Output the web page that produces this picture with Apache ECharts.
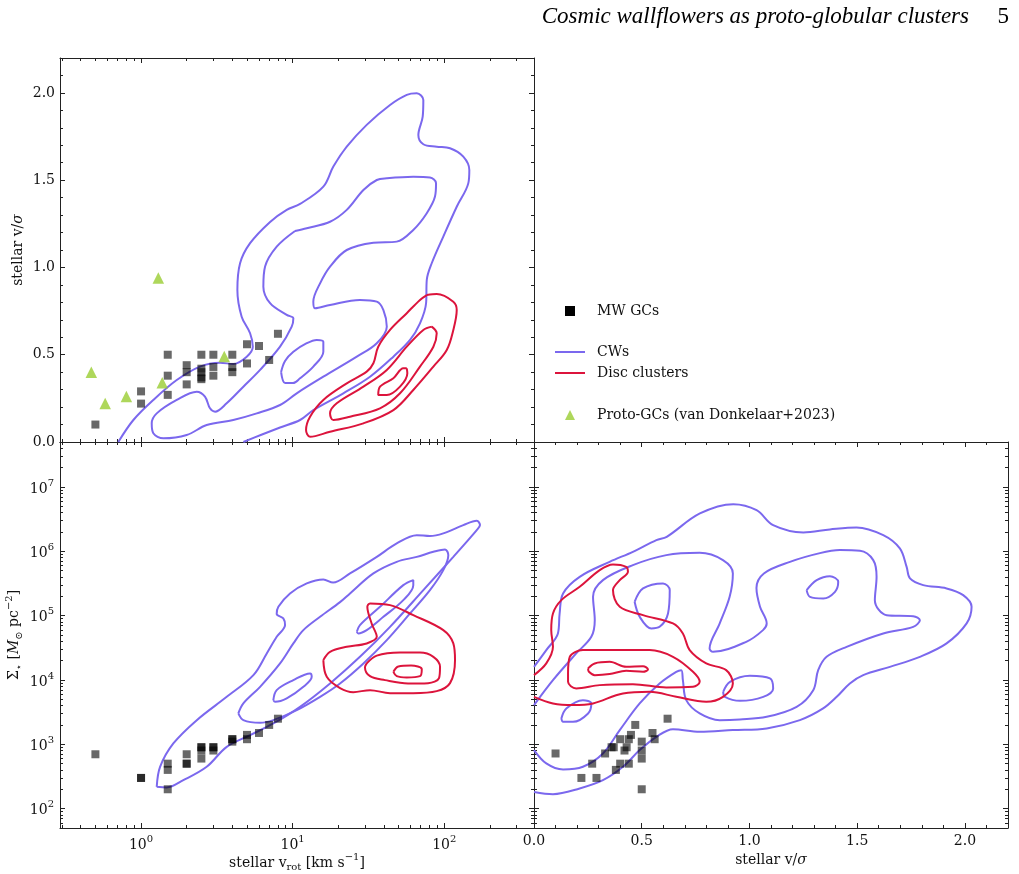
<!DOCTYPE html>
<html><head><meta charset="utf-8">
<script src="https://cdn.jsdelivr.net/npm/echarts@6.0.0/dist/echarts.min.js"></script>
<style>html,body{margin:0;padding:0;background:#fff}#chart{width:1019px;height:874px}</style>
</head><body><div id="chart"></div>
<script>
// ---------------- axis ranges & ticks ----------------
const vrotRange = [0.292, 391];
const vsRange = [0, 2.2];
const sigmaRange = [50, 5e7];
const vrotMajor = [1, 10, 100];
const vrotMinor = [0.3,0.4,0.5,0.6,0.7,0.8,0.9,2,3,4,5,6,7,8,9,20,30,40,50,60,70,80,90,200,300];
const vsMajor = [0, 0.5, 1, 1.5, 2];
const vsMinor = [0.1,0.2,0.3,0.4,0.6,0.7,0.8,0.9,1.1,1.2,1.3,1.4,1.6,1.7,1.8,1.9,2.1,2.2];
const sigmaMajor = [1e2, 1e3, 1e4, 1e5, 1e6, 1e7];
const sigmaMinor = [50,60,70,80,90,200,300,400,500,600,700,800,900,2000,3000,4000,5000,6000,7000,8000,9000,
  2e4,3e4,4e4,5e4,6e4,7e4,8e4,9e4,2e5,3e5,4e5,5e5,6e5,7e5,8e5,9e5,2e6,3e6,4e6,5e6,6e6,7e6,8e6,9e6,2e7,3e7,4e7,5e7];

// ---------------- Milky Way GCs ----------------
const mwVrotVs = [[0.5,0.1],[1,0.29],[1,0.22],[1.5,0.5],[1.5,0.38],[1.5,0.27],[2,0.44],[2,0.40],[2,0.33],
  [2.5,0.5],[2.5,0.42],[2.5,0.40],[2.5,0.37],[2.5,0.36],[3,0.5],[3,0.43],[3,0.38],[4,0.5],[4,0.43],[4,0.40],
  [5,0.56],[5,0.45],[6,0.55],[7,0.47],[8,0.62]];
const mwVrotSigma = [[0.5,700],[1,300],[1,300],[1.5,500],[1.5,400],[1.5,200],[2,700],[2,500],[2,500],
  [2.5,900],[2.5,900],[2.5,800],[2.5,600],[3,900],[3,900],[3,800],[4,1200],[4,1200],[4,1100],
  [5,1400],[5,1200],[6,1500],[7,2000],[8,2500]];
const mwVsSigma = [[0.1,720],[0.22,300],[0.29,300],[0.27,500],[0.33,720],[0.36,900],[0.37,900],[0.38,400],
  [0.40,1200],[0.40,500],[0.42,800],[0.43,900],[0.44,1200],[0.44,500],[0.45,1400],[0.47,2000],
  [0.5,1100],[0.5,800],[0.5,600],[0.5,200],[0.55,1500],[0.56,1200],[0.62,2500]];
// ---------------- proto-GCs ----------------
const protoVrotVs = [[0.47,0.40],[0.58,0.22],[0.80,0.26],[1.30,0.94],[1.38,0.34],[3.54,0.49]];

// ---------------- CW contours: v_rot vs v/sigma ----------------
const cwVrotVs1 = [[0.708,0],[0.890,0.126],[1.205,0.241],[1.720,0.355],[2.449,0.432],[3.32,0.454],[4.06,0.447],[4.98,0.489],[5.46,0.546],[5.24,0.623],[4.61,0.718],[4.32,0.871],[4.50,1.024],[5.24,1.139],[7.10,1.261],[9.14,1.330],[11.19,1.364],[15.94,1.463],[18.56,1.578],[22.75,1.692],[30.8,1.817],[43.9,1.931],[56.6,1.989],[65.9,1.998],[72.8,1.960],[72.1,1.864],[67.5,1.759],[72.8,1.706],[89.2,1.692],[109.2,1.683],[133.6,1.635],[146.4,1.559],[144.2,1.483],[120.9,1.348],[98.6,1.177],[82.7,1.024],[76.7,0.928],[75.9,0.795],[69.2,0.680],[59.5,0.585],[46.2,0.489],[32.4,0.374],[21.6,0.279],[13.69,0.183],[11.19,0.126],[8.26,0.083],[6.28,0.043],[4.73,0]];
const cwVrotVs2 = [[10.37,1.209],[7.85,1.119],[6.58,1.005],[6.41,0.890],[7.10,0.795],[9.14,0.728],[10.11,0.709],[9.86,0.661],[8.26,0.546],[6.10,0.413],[4.73,0.317],[3.67,0.222],[3.08,0.174],[2.85,0.193],[2.64,0.260],[2.33,0.288],[1.720,0.241],[1.269,0.164],[1.176,0.107],[1.205,0.050],[1.403,0.021],[2.00,0.040],[2.71,0.097],[4.06,0.126],[5.80,0.164],[8.26,0.212],[10.64,0.279],[15.94,0.374],[26.5,0.489],[35.9,0.566],[41.8,0.661],[39.7,0.756],[35.9,0.804],[27.8,0.814],[17.65,0.785],[14.06,0.766],[13.69,0.804],[15.17,0.909],[17.65,1.005],[22.75,1.100],[34.1,1.142],[48.6,1.148],[62.5,1.215],[76.7,1.311],[86.9,1.406],[88.3,1.483],[80.5,1.515],[62.5,1.520],[41.8,1.511],[35.9,1.501],[29.3,1.444],[22.75,1.330],[17.65,1.262],[12.39,1.225],[10.37,1.209]];
const cwVrotVs3 = [[8.39,0.401],[8.91,0.338],[10.06,0.338],[11.19,0.365],[13.69,0.432],[15.94,0.517],[15.94,0.575],[14.42,0.585],[12.39,0.566],[10.11,0.517],[8.91,0.464],[8.39,0.401]];
// ---------------- Disc cluster contours: v_rot vs v/sigma ----------------
const discVrotVs1 = [[76.7,0.842],[89.2,0.848],[114.8,0.804],[120.9,0.756],[114.8,0.642],[103.9,0.527],[84.8,0.432],[62.5,0.298],[46.2,0.183],[29.3,0.107],[17.65,0.059],[13.03,0.030],[12.26,0.069],[13.03,0.145],[15.94,0.241],[22.75,0.336],[30.8,0.403],[34.1,0.451],[36.7,0.546],[43.9,0.642],[56.6,0.738],[69.2,0.814],[76.7,0.842]];
const discVrotVs2 = [[82.7,0.661],[89.2,0.623],[84.8,0.546],[69.2,0.432],[51.1,0.279],[37.7,0.193],[23.9,0.145],[18.56,0.126],[17.65,0.164],[19.54,0.222],[29.3,0.317],[41.8,0.413],[56.6,0.546],[72.8,0.642],[82.7,0.661]];
const discVrotVs3 = [[56.6,0.422],[57.1,0.394],[51.1,0.317],[41.8,0.269],[36.7,0.269],[37.7,0.317],[46.2,0.365],[53.7,0.422],[56.6,0.422]];

// ---------------- CW contours: v_rot vs Sigma ----------------
const cwVrotSigma1 = [[1.269,218],[1.335,447],[1.633,1031],[2.331,2375],[3.675,5470],[5.51,11890],[6.75,25850],[7.85,46830],[8.91,71200],[8.68,90500],[7.85,105600],[8.05,137100],[9.61,221300],[12.39,316800],[15.94,365600],[18.48,326000],[23.9,453000],[35.9,820000],[48.6,1326000],[65.9,1784000],[80.5,1722000],[98.6,1897000],[133.6,2553000],[163.9,2980000],[172.2,2553000],[163.9,2134000],[114.8,820000],[72.8,249300],[43.9,67000],[27.8,22890],[17.65,8830],[11.19,3823],[7.46,2111],[5.24,1389],[3.675,913],[2.71,447],[1.901,277],[1.477,213.6],[1.269,218]];
const cwVrotSigma2 = [[4.384,3020],[4.73,4318],[6.10,7824],[8.26,18080],[10.11,36980],[11.77,59540],[15.17,95830],[20.54,162200],[23.9,221300],[34.1,453000],[48.6,686300],[65.9,820000],[84.8,981700],[101.2,1070000],[106.4,872000],[98.6,509900],[80.5,249300],[59.5,108200],[41.8,41600],[29.3,18080],[20.54,8830],[15.17,5470],[10.64,3397],[7.46,2375],[6.10,2157],[4.73,2375],[4.384,3020]];
const cwVrotSigma3a = [[7.46,4860],[7.85,6950],[10.11,9940],[13.03,12640],[13.36,11190],[11.77,7824],[9.14,5164],[7.66,4574],[7.46,4860]];
const cwVrotSigma3b = [[26.5,56000],[27.8,71200],[37.7,137100],[53.7,297900],[62.5,356500],[62.5,297900],[53.7,174200],[39.7,95830],[30.8,59540],[27.1,52900],[26.5,56000]];
// ---------------- Disc cluster contours: v_rot vs Sigma ----------------
const discVrotSigma1 = [[15.94,20340],[16.79,11190],[20.54,7470],[25.14,6470],[32.4,6950],[43.9,6243],[62.5,6243],[89.2,6705],[109.2,8930],[117.8,20340],[114.8,36980],[98.6,59540],[62.5,101800],[43.9,145700],[32.4,154900],[31.1,137100],[33.2,75650],[35.9,46830],[30.8,36980],[22.75,32740],[17.65,27380],[15.94,20340]];
const discVrotSigma2 = [[30.8,18080],[35.9,23890],[51.1,26610],[69.2,26610],[84.8,22890],[93.8,16000],[92.4,10680],[78.2,8930],[57.7,8830],[40.7,9940],[32.4,11470],[30.0,15830],[30.8,18080]];
const discVrotSigma3 = [[46.2,13390],[49.8,16240],[60.4,16710],[71.1,14740],[69.2,11470],[56.6,10950],[48.6,11470],[46.2,13390]];

// ---------------- CW contours: v/sigma vs Sigma ----------------
const cwVsSigma1 = [[0,16000],[0.057,29110],[0.111,52900],[0.119,108200],[0.135,221300],[0.212,401000],[0.351,686300],[0.459,981700],[0.568,1492000],[0.616,1679000],[0.770,3880000],[0.925,5410000],[1.033,4365000],[1.110,2553000],[1.250,1966000],[1.3735,2188000],[1.497,2350000],[1.621,1784000],[1.698,1109000],[1.7295,574000],[1.745,378700],[1.8065,297900],[1.915,264800],[1.992,208400],[2.031,137100],[2.008,75650],[1.915,36980],[1.791,22890],[1.652,16000],[1.528,11890],[1.466,8830],[1.405,5470],[1.342,3610],[1.234,2375],[1.080,1765],[0.923,1661],[0.769,1563],[0.645,1721],[0.568,1306],[0.4905,812],[0.413,447],[0.320,277],[0.212,206],[0.088,168],[0,182]];
const cwVsSigma2 = [[0,4064],[0.088,9940],[0.196,25850],[0.266,46830],[0.282,85110],[0.274,196000],[0.320,356500],[0.459,609500],[0.614,872000],[0.769,946500],[0.877,729400],[0.923,453000],[0.908,196000],[0.862,75650],[0.815,30900],[0.831,27380],[0.985,39170],[1.063,59540],[1.080,75650],[1.049,137100],[1.0325,267700],[1.067,453000],[1.188,686300],[1.327,937000],[1.420,1043000],[1.513,1018000],[1.5745,729400],[1.590,401000],[1.582,174200],[1.637,101800],[1.760,98200],[1.791,85110],[1.760,67000],[1.621,52900],[1.451,32740],[1.358,22890],[1.319,14220],[1.296,6950],[1.219,3823],[1.080,2673],[0.956,2436],[0.862,2375],[0.769,3020],[0.7067,4860],[0.691,9940],[0.6835,14220],[0.660,13390],[0.583,8830],[0.4905,4318],[0.398,1661],[0.320,721],[0.227,447],[0.135,406],[0.057,504],[0,812]];
const cwVsSigma3a = [[0.467,163900],[0.506,264800],[0.599,316800],[0.630,249300],[0.622,108200],[0.583,67000],[0.544,63240],[0.4905,95830],[0.467,163900]];
const cwVsSigma3b = [[1.2654,249300],[1.312,356500],[1.3735,411200],[1.412,335500],[1.397,234500],[1.3425,185100],[1.281,196000],[1.2654,249300]];
const cwVsSigma3c = [[0.878,6540],[0.9095,9355],[1.002,11600],[1.095,10570],[1.110,7388],[1.064,5470],[0.956,4740],[0.886,5470],[0.878,6540]];
const cwVsSigma3d = [[0.127,2525],[0.150,3610],[0.227,4860],[0.266,4318],[0.251,3020],[0.181,2235],[0.135,2235],[0.127,2525]];
// ---------------- Disc cluster contours: v/sigma vs Sigma ----------------
const discVsSigma1 = [[0,11890],[0.057,18080],[0.088,32740],[0.080,59540],[0.088,108200],[0.127,174200],[0.212,280500],[0.305,509900],[0.3666,625200],[0.428,574000],[0.436,479800],[0.398,356500],[0.3666,249300],[0.398,137100],[0.506,101800],[0.645,75650],[0.691,52900],[0.7225,29110],[0.7995,18080],[0.892,14220],[0.923,8830],[0.877,5470],[0.7995,4574],[0.660,5470],[0.537,6540],[0.413,6180],[0.274,4318],[0.181,4064],[0.088,4318],[0,5470]];
const discVsSigma2 = [[0.158,12640],[0.166,22890],[0.227,29110],[0.382,29110],[0.537,29110],[0.645,22890],[0.738,13390],[0.769,9355],[0.738,7824],[0.614,7656],[0.459,8610],[0.305,8315],[0.196,7388],[0.158,9355],[0.158,12640]];
const discVsSigma3 = [[0.251,15110],[0.282,18080],[0.351,19140],[0.428,16000],[0.506,16410],[0.529,14580],[0.506,13390],[0.428,13870],[0.351,12330],[0.282,11890],[0.255,13390],[0.251,15110]];

// ---------------- styling ----------------
const FONT = "'DejaVu Serif', 'DejaVu Sans', serif";
const AX = '#222';
const TXT = '#111';
const CW_COLOR = '#7b68ee';
const DISC_COLOR = '#dc143c';
const GC_COLOR = 'rgba(0,0,0,0.74)';
const PROTO_COLOR = '#9acd32';

const tickRich = {
  b: {fontFamily: FONT, fontSize: 14, color: TXT, verticalAlign: 'bottom'},
  s: {fontFamily: FONT, fontSize: 10, color: TXT, verticalAlign: 'top'}
};
const nameRich = {
  n: {fontFamily: FONT, fontSize: 14, color: TXT, verticalAlign: 'middle'},
  i: {fontFamily: FONT, fontSize: 14, color: TXT, fontStyle: 'italic', verticalAlign: 'middle'},
  sub: {fontFamily: FONT, fontSize: 10, color: TXT, verticalAlign: 'bottom'},
  sup: {fontFamily: FONT, fontSize: 10, color: TXT, verticalAlign: 'top'}
};
function logLabel(v) { return '{b|10}{s|' + Math.round(Math.log10(v)) + '}'; }
function linLabel(v) { return Number(v).toFixed(1); }

function axesFor(grid, type, range, majors, minors, sides, labelSide, labelFmt, isLog, extra) {
  const out = [];
  sides.forEach(function (side) {
    const withLabel = side === labelSide;
    const major = {
      gridIndex: grid, type: type, min: range[0], max: range[1], position: side,
      axisLine: {show: true, onZero: false, lineStyle: {color: AX, width: 1}},
      axisTick: {show: true, inside: true, length: 5, customValues: majors, lineStyle: {color: AX, width: 1}},
      axisLabel: withLabel ? {
        show: true, customValues: majors, formatter: labelFmt, margin: isLog ? 6 : 5,
        fontFamily: FONT, fontSize: 14, color: TXT, lineHeight: isLog ? 18 : 16,
        rich: isLog ? tickRich : undefined
      } : {show: false},
      splitLine: {show: false}, minorTick: {show: false}, minorSplitLine: {show: false},
      silent: true
    };
    if (withLabel && extra) Object.assign(major, extra);
    out.push(major);
    out.push({
      gridIndex: grid, type: type, min: range[0], max: range[1], position: side,
      axisLine: {show: false, onZero: false},
      axisTick: {show: true, inside: true, length: 3, customValues: minors, lineStyle: {color: AX, width: 1}},
      axisLabel: {show: false}, splitLine: {show: false}, silent: true
    });
  });
  return out;
}

const nameStyle = {fontFamily: FONT, fontSize: 14, color: TXT, lineHeight: 20, rich: nameRich};
const xAxes = [].concat(
  axesFor(0, 'log', vrotRange, vrotMajor, vrotMinor, ['bottom', 'top'], null, null, true),
  axesFor(1, 'log', vrotRange, vrotMajor, vrotMinor, ['bottom', 'top'], 'bottom', logLabel, true, {
    name: '{n|stellar v}{sub|rot}{n| [km s}{sup|\u22121}{n|]}', nameLocation: 'middle', nameGap: 20, nameTextStyle: nameStyle
  }),
  axesFor(2, 'value', vsRange, vsMajor, vsMinor, ['bottom', 'top'], 'bottom', linLabel, false, {
    name: '{n|stellar v/}{i|\u03c3}', nameLocation: 'middle', nameGap: 19, nameTextStyle: nameStyle
  })
);
const yAxes = [].concat(
  axesFor(0, 'value', vsRange, vsMajor, vsMinor, ['left', 'right'], 'left', linLabel, false, {
    name: '{n|stellar v/}{i|\u03c3}', nameLocation: 'middle', nameRotate: 90, nameGap: 31, nameTextStyle: nameStyle
  }),
  axesFor(1, 'log', sigmaRange, sigmaMajor, sigmaMinor, ['left', 'right'], 'left', logLabel, true, {
    name: '{n|\u03a3}{sub|\u22c6}{n| [}{i|M}{sub|\u2299}{n| pc}{sup|\u22122}{n|]}', nameLocation: 'middle', nameRotate: 90, nameGap: 36, nameTextStyle: nameStyle
  }),
  axesFor(2, 'log', sigmaRange, sigmaMajor, sigmaMinor, ['left', 'right'], null, null, true)
);

function contour(name, data, color, axisIdx) {
  return {
    type: 'line', name: name, data: data, xAxisIndex: axisIdx, yAxisIndex: axisIdx,
    symbol: 'none', showSymbol: false, smooth: 0.35, clip: true, silent: true,
    lineStyle: {color: color, width: 2}, itemStyle: {color: color},
    emphasis: {disabled: true}, z: 3, animation: false
  };
}
function gcs(data, axisIdx) {
  return {
    type: 'scatter', name: 'MW GCs', data: data, xAxisIndex: axisIdx, yAxisIndex: axisIdx,
    symbol: 'rect', symbolSize: 8, itemStyle: {color: GC_COLOR}, silent: true,
    emphasis: {disabled: true}, z: 4, animation: false
  };
}

const series = [
  contour('CWs', cwVrotVs1, CW_COLOR, 0), contour('CWs', cwVrotVs2, CW_COLOR, 0), contour('CWs', cwVrotVs3, CW_COLOR, 0),
  contour('Disc clusters', discVrotVs1, DISC_COLOR, 0), contour('Disc clusters', discVrotVs2, DISC_COLOR, 0), contour('Disc clusters', discVrotVs3, DISC_COLOR, 0),
  contour('CWs', cwVrotSigma1, CW_COLOR, 4), contour('CWs', cwVrotSigma2, CW_COLOR, 4), contour('CWs', cwVrotSigma3a, CW_COLOR, 4), contour('CWs', cwVrotSigma3b, CW_COLOR, 4),
  contour('Disc clusters', discVrotSigma1, DISC_COLOR, 4), contour('Disc clusters', discVrotSigma2, DISC_COLOR, 4), contour('Disc clusters', discVrotSigma3, DISC_COLOR, 4),
  contour('CWs', cwVsSigma1, CW_COLOR, 8), contour('CWs', cwVsSigma2, CW_COLOR, 8), contour('CWs', cwVsSigma3a, CW_COLOR, 8), contour('CWs', cwVsSigma3b, CW_COLOR, 8), contour('CWs', cwVsSigma3c, CW_COLOR, 8), contour('CWs', cwVsSigma3d, CW_COLOR, 8),
  contour('Disc clusters', discVsSigma1, DISC_COLOR, 8), contour('Disc clusters', discVsSigma2, DISC_COLOR, 8), contour('Disc clusters', discVsSigma3, DISC_COLOR, 8),
  gcs(mwVrotVs, 0), gcs(mwVrotSigma, 4), gcs(mwVsSigma, 8),
  {
    type: 'scatter', name: 'Proto-GCs (van Donkelaar+2023)', data: protoVrotVs, xAxisIndex: 0, yAxisIndex: 0,
    symbol: 'triangle', symbolSize: 11.5, itemStyle: {color: PROTO_COLOR}, silent: true,
    emphasis: {disabled: true}, z: 5, animation: false
  }
];

function legendItem(name, left, top, w, h, padLeft, icon, itemStyle) {
  const d = {name: name};
  if (itemStyle) d.itemStyle = itemStyle;
  const l = {
    data: [d], left: left, top: top, itemWidth: w, itemHeight: h, selectedMode: false,
    orient: 'vertical', padding: 0,
    formatter: '{t|{name}}',
    textStyle: {fontFamily: FONT, fontSize: 14, color: TXT, rich: {t: {fontFamily: FONT, fontSize: 14, color: TXT, padding: [0, 0, 0, padLeft]}}}
  };
  if (icon) l.icon = icon;
  return l;
}

const option = {
  animation: false,
  backgroundColor: '#fff',
  title: [
    {text: 'Cosmic wallflowers as proto-globular clusters', right: 45, top: 0,
     textStyle: {fontFamily: "'Liberation Serif', serif", fontStyle: 'italic', fontWeight: 'normal', fontSize: 23, color: '#000'}},
    {text: '5', right: 5, top: 0,
     textStyle: {fontFamily: "'Liberation Serif', serif", fontWeight: 'normal', fontSize: 23, color: '#000'}}
  ],
  legend: [
    legendItem('MW GCs', 565, 304, 10, 10, 17, null, {color: '#000', opacity: 1}),
    legendItem('CWs', 555, 345, 30, 2, 7, 'rect'),
    legendItem('Disc clusters', 555, 366, 30, 2, 7, 'rect'),
    legendItem('Proto-GCs (van Donkelaar+2023)', 565, 408, 10, 10, 17, null)
  ],
  grid: [
    {left: 60, top: 58, width: 474, height: 384, outerBoundsMode: 'none'},
    {left: 60, top: 442, width: 474, height: 386, outerBoundsMode: 'none'},
    {left: 534, top: 442, width: 474, height: 386, outerBoundsMode: 'none'}
  ],
  xAxis: xAxes,
  yAxis: yAxes,
  series: series
};

const chart = echarts.init(document.getElementById('chart'), null, {renderer: 'canvas'});
chart.setOption(option);
</script></body></html>
